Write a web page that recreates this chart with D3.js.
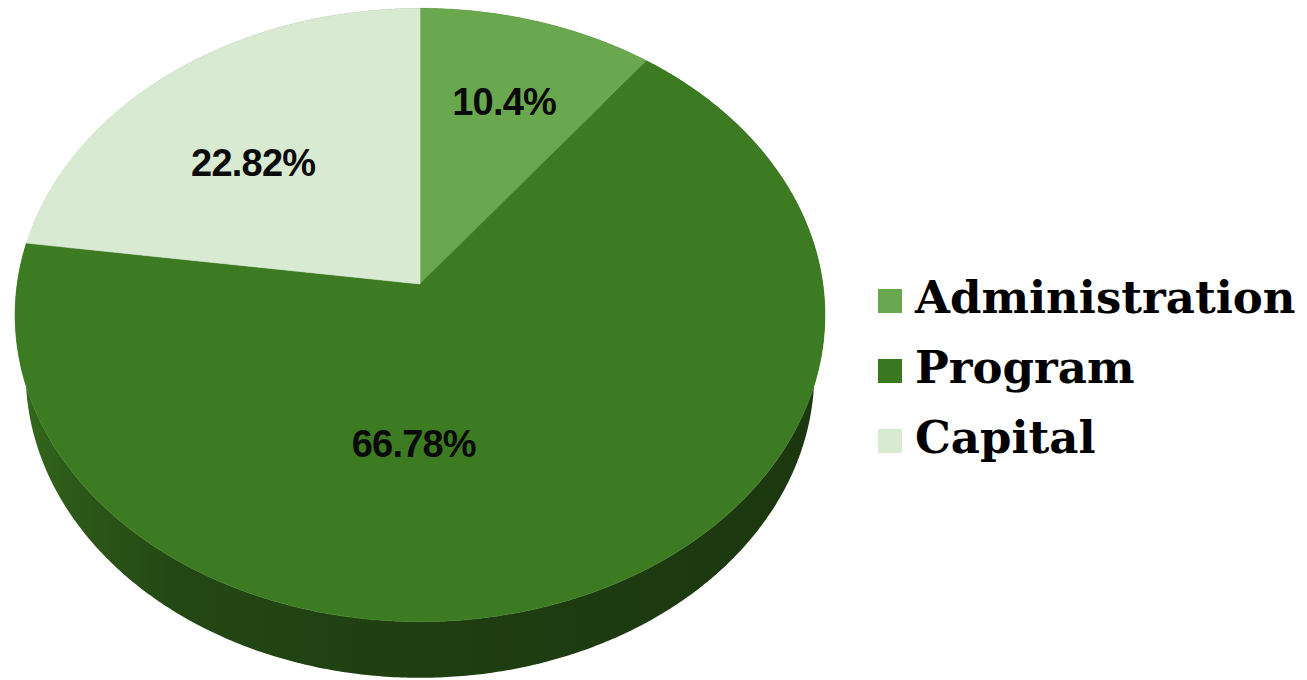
<!DOCTYPE html>
<html>
<head>
<meta charset="utf-8">
<script src="https://cdn.jsdelivr.net/npm/d3@7"></script>
<style>
  html, body { margin: 0; padding: 0; background: #fff; }
  svg { display: block; }
</style>
</head>
<body>
<svg id="chart"></svg>
<script>
const categories = ['Administration', 'Program', 'Capital'];
const values = [10.4, 66.78, 22.82];
const labels = ['10.4%', '66.78%', '22.82%'];
const colors = ['#6aa84f', '#3d7b22', '#d9ead3'];
const legendColors = ['#6aa84f', '#3a7820', '#d9ead3'];

const width = 1307, height = 680;

// camera for the tilted pie (perspective)
const cam = {
  cx: 420, cy: 284,          // screen position of the pie centre
  k: 2619,                   // focal scale
  r: 0.1538,                 // disc radius / camera distance
  h: 0.0354,                 // disc thickness / camera distance
  tilt: 48.9 * Math.PI / 180
};

// theta: clockwise from 12 o'clock, rho: 0..1 of radius, y: 0 top face, -1 bottom
function project(theta, rho, y) {
  const X = cam.r * rho * Math.sin(theta);
  const Z = cam.r * rho * Math.cos(theta);
  const Y = y * cam.h;
  const depth = 1 - Y * Math.sin(cam.tilt) + Z * Math.cos(cam.tilt);
  return [
    cam.cx + cam.k * X / depth,
    cam.cy - cam.k * (Y * Math.cos(cam.tilt) + Z * Math.sin(cam.tilt)) / depth
  ];
}

const svg = d3.select('#chart')
  .attr('width', width)
  .attr('height', height);

const pie = d3.pie().sort(null).value(d => d);
const arcs = pie(values);

const line = d3.line();
const step = Math.PI / 360;

function rim(a, y) {
  const pts = [];
  for (let t = a.startAngle; t < a.endAngle; t += step) pts.push(project(t, 1, y));
  pts.push(project(a.endAngle, 1, y));
  return pts;
}

// side wall gradient, lighter on the left, darkest on the right
const left = project(-Math.PI / 2, 1, 0)[0] - 10;
const right = project(Math.PI / 2, 1, 0)[0] + 10;
const shadeStops = [[0, 0.35], [0.08, 0.9], [0.2, 1.5], [0.5, 1.9], [1, 2.25]];

const defs = svg.append('defs');
colors.forEach((c, i) => {
  const g = defs.append('linearGradient')
    .attr('id', 'wall' + i)
    .attr('gradientUnits', 'userSpaceOnUse')
    .attr('x1', left).attr('x2', right)
    .attr('y1', 0).attr('y2', 0);
  g.selectAll('stop')
    .data(shadeStops)
    .join('stop')
    .attr('offset', d => d[0])
    .attr('stop-color', d => d3.color(c).darker(d[1]).formatHex());
});

svg.append('g')
  .selectAll('path')
  .data(arcs)
  .join('path')
  .attr('d', a => line(rim(a, 0).concat(rim(a, -1).reverse())) + 'Z')
  .attr('fill', (d, i) => `url(#wall${i})`);

// top faces
svg.append('g')
  .selectAll('path')
  .data(arcs)
  .join('path')
  .attr('d', a => line([project(0, 0, 0)].concat(rim(a, 0))) + 'Z')
  .attr('fill', (d, i) => colors[i])
  .attr('stroke', (d, i) => colors[i])
  .attr('stroke-width', 0.6);

// percentage labels: [fraction along slice, fraction of radius]
const labelSpots = [[0.51, 0.68], [0.6, 0.5], [0.44, 0.6]];

svg.append('g')
  .selectAll('text')
  .data(arcs)
  .join('text')
  .attr('transform', (d, i) => {
    const [f, rho] = labelSpots[i];
    const p = project(d.startAngle + f * (d.endAngle - d.startAngle), rho, 0);
    return `translate(${p[0]},${p[1]})`;
  })
  .attr('text-anchor', 'middle')
  .attr('dy', '0.36em')
  .attr('font-family', '"Liberation Sans", Arial, sans-serif')
  .attr('font-weight', 'bold')
  .attr('font-size', 38)
  .attr('letter-spacing', -0.8)
  .attr('fill', '#0a0a0a')
  .text((d, i) => labels[i]);

// legend
const legend = svg.append('g')
  .attr('transform', 'translate(878,313)');

const item = legend.selectAll('g')
  .data(categories)
  .join('g')
  .attr('transform', (d, i) => `translate(0,${i * 70})`);

item.append('rect')
  .attr('x', 0)
  .attr('y', -24)
  .attr('width', 24)
  .attr('height', 24)
  .attr('fill', (d, i) => legendColors[i]);

item.append('text')
  .attr('x', 37)
  .attr('y', 0)
  .attr('font-family', '"DejaVu Serif", Georgia, serif')
  .attr('font-weight', 'bold')
  .attr('font-size', 45)
  .attr('fill', '#000')
  .text(d => d);
</script>
</body>
</html>
